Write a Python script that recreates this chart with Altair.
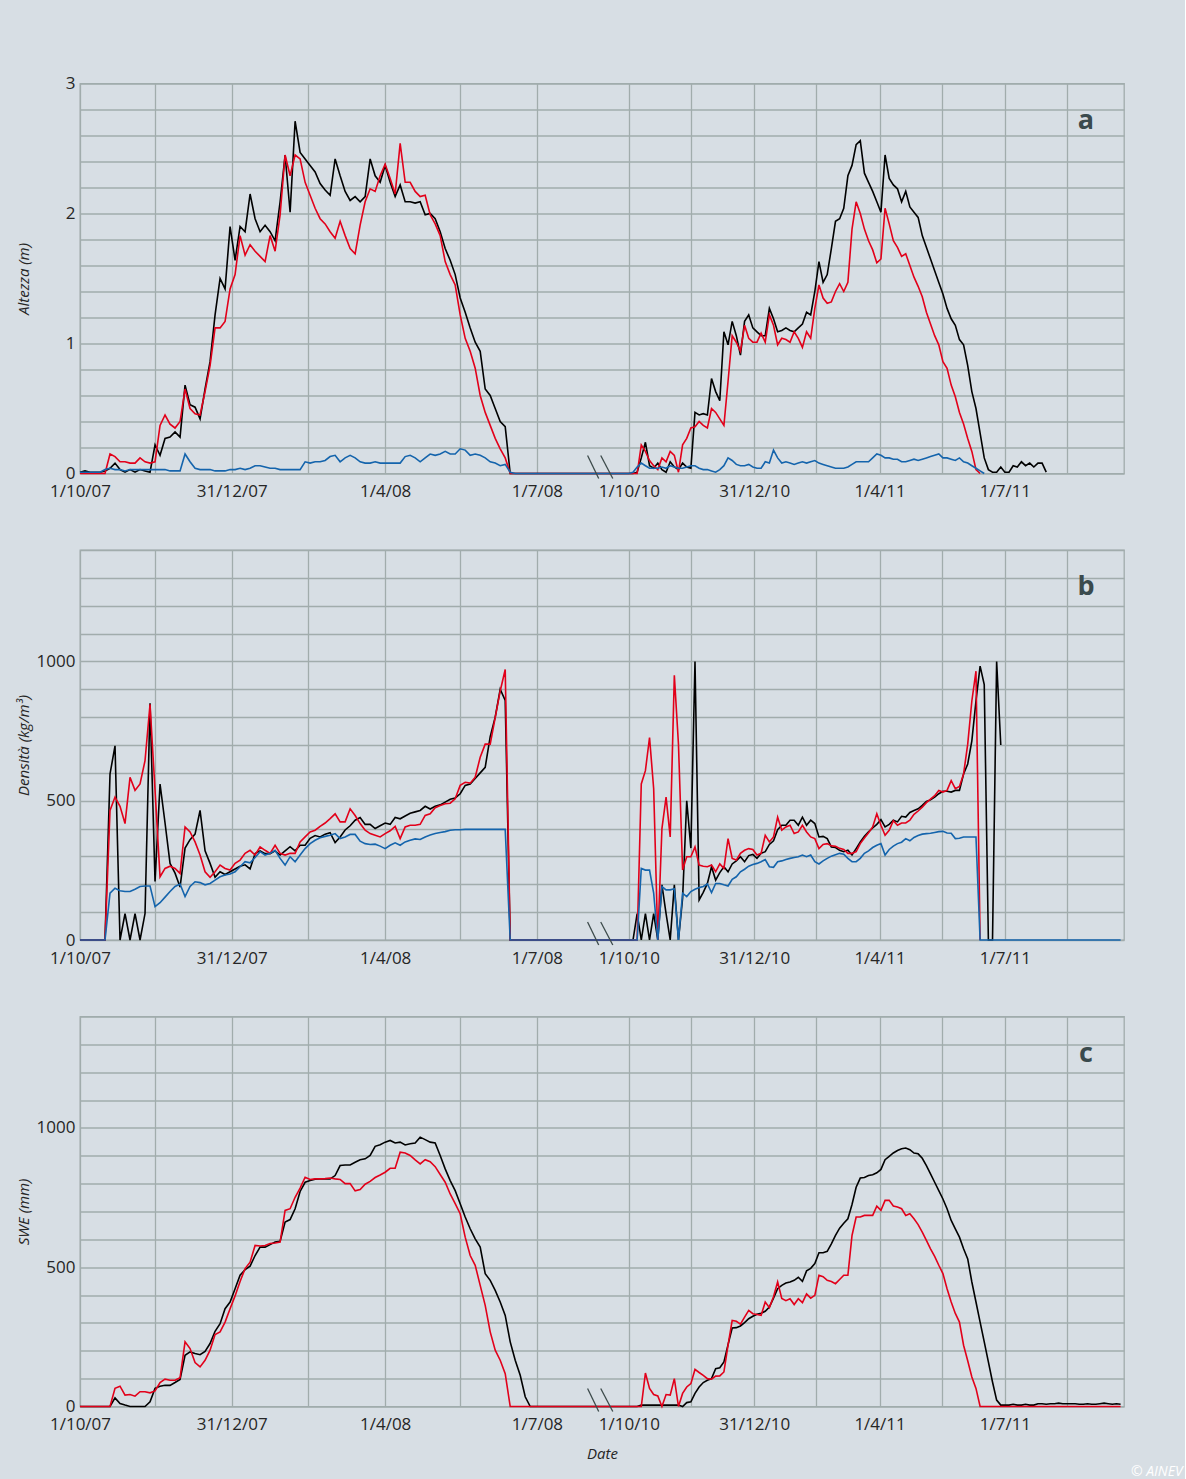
import altair as alt
import pandas as pd

# ------------------------------------------------------------------
# Two snow seasons, one sample every 3 days from the season start.
# ------------------------------------------------------------------
SEASON_1_START = "2007-10-01"
SEASON_2_START = "2010-10-01"
STEP_DAYS = 3

# Panel a - snow depth (m)
depth_black_s1 = [
    0.01, 0.02, 0.01, 0.01, 0.01, 0.02, 0.04, 0.08, 0.03, 0.01,
    0.03, 0.01, 0.03, 0.02, 0.01, 0.22, 0.14, 0.27, 0.28, 0.32,
    0.28, 0.68, 0.53, 0.51, 0.42, 0.65, 0.86, 1.22, 1.50, 1.42,
    1.90, 1.64, 1.90, 1.86, 2.15, 1.96, 1.86, 1.91, 1.86, 1.79,
    2.09, 2.45, 2.01, 2.71, 2.47, 2.42, 2.37, 2.32, 2.23, 2.18,
    2.14, 2.42, 2.29, 2.17, 2.10, 2.13, 2.09, 2.13, 2.42, 2.29,
    2.24, 2.37, 2.24, 2.13, 2.22, 2.09, 2.09, 2.08, 2.09, 1.99,
    2.00, 1.96, 1.86, 1.73, 1.64, 1.53, 1.35, 1.24, 1.12, 1.01,
    0.94, 0.65, 0.60, 0.50, 0.40, 0.36, 0.00]
depth_red_s1 = [
    0, 0, 0, 0, 0, 0, 0.15, 0.13, 0.09, 0.09,
    0.08, 0.08, 0.12, 0.09, 0.08, 0.09, 0.37, 0.45, 0.38, 0.35,
    0.40, 0.65, 0.50, 0.46, 0.45, 0.63, 0.83, 1.12, 1.12, 1.17,
    1.42, 1.53, 1.83, 1.68, 1.76, 1.71, 1.67, 1.63, 1.83, 1.71,
    1.99, 2.45, 2.29, 2.45, 2.42, 2.24, 2.14, 2.04, 1.96, 1.92,
    1.86, 1.81, 1.94, 1.83, 1.73, 1.69, 1.91, 2.09, 2.19, 2.17,
    2.29, 2.38, 2.27, 2.15, 2.54, 2.24, 2.24, 2.17, 2.13, 2.14,
    1.99, 1.92, 1.83, 1.63, 1.53, 1.45, 1.22, 1.04, 0.94, 0.81,
    0.60, 0.47, 0.37, 0.27, 0.19, 0.12, 0]
depth_blue_s1 = [
    0.01, 0.01, 0.01, 0.01, 0.01, 0.03, 0.04, 0.03, 0.03, 0.02,
    0.03, 0.03, 0.03, 0.03, 0.03, 0.03, 0.03, 0.03, 0.02, 0.02,
    0.02, 0.15, 0.09, 0.04, 0.03, 0.03, 0.03, 0.02, 0.02, 0.02,
    0.03, 0.03, 0.04, 0.03, 0.04, 0.06, 0.06, 0.05, 0.04, 0.04,
    0.03, 0.03, 0.03, 0.03, 0.03, 0.09, 0.08, 0.09, 0.09, 0.10,
    0.13, 0.14, 0.09, 0.12, 0.14, 0.12, 0.09, 0.08, 0.08, 0.09,
    0.08, 0.08, 0.08, 0.08, 0.08, 0.13, 0.14, 0.12, 0.09, 0.12,
    0.15, 0.14, 0.15, 0.17, 0.15, 0.15, 0.19, 0.18, 0.14, 0.15,
    0.14, 0.12, 0.09, 0.08, 0.06, 0.07, 0.01, 0]
depth_black_s2 = [
    0, 0, 0.01, 0.12, 0.24, 0.06, 0.04, 0.08, 0.03, 0.01,
    0.09, 0.05, 0.03, 0.08, 0.05, 0.04, 0.47, 0.45, 0.46, 0.45,
    0.73, 0.63, 0.56, 1.09, 0.99, 1.17, 1.06, 0.91, 1.17, 1.22,
    1.12, 1.09, 1.06, 1.06, 1.27, 1.19, 1.09, 1.10, 1.12, 1.10,
    1.09, 1.12, 1.15, 1.24, 1.22, 1.40, 1.63, 1.47, 1.53, 1.73,
    1.94, 1.96, 2.04, 2.29, 2.37, 2.53, 2.56, 2.31, 2.24, 2.17,
    2.09, 2.01, 2.45, 2.27, 2.22, 2.19, 2.09, 2.17, 2.05, 2.01,
    1.97, 1.83, 1.74, 1.65, 1.56, 1.47, 1.38, 1.27, 1.19, 1.14,
    1.03, 0.99, 0.83, 0.63, 0.50, 0.31, 0.12, 0.03, 0.01, 0.01,
    0.05, 0.01, 0.01, 0.06, 0.05, 0.09, 0.06, 0.08, 0.05, 0.08,
    0.08, 0.01]
depth_red_s2 = [
    0, 0, 0, 0.22, 0.17, 0.10, 0.06, 0.03, 0.12, 0.09,
    0.17, 0.14, 0.01, 0.22, 0.27, 0.35, 0.36, 0.40, 0.37, 0.35,
    0.50, 0.47, 0.42, 0.37, 0.71, 1.06, 1.01, 0.94, 1.14, 1.04,
    1.01, 1.01, 1.08, 1.01, 1.22, 1.14, 0.99, 1.04, 1.03, 1.01,
    1.09, 1.04, 0.97, 1.09, 1.04, 1.27, 1.45, 1.35, 1.31, 1.32,
    1.40, 1.46, 1.40, 1.47, 1.88, 2.09, 2.00, 1.88, 1.79, 1.72,
    1.62, 1.65, 2.04, 1.92, 1.79, 1.74, 1.67, 1.69, 1.60, 1.51,
    1.44, 1.36, 1.24, 1.15, 1.06, 0.99, 0.86, 0.81, 0.68, 0.59,
    0.47, 0.38, 0.27, 0.17, 0.03, 0]
depth_blue_s2 = [
    0, 0.01, 0.05, 0.08, 0.06, 0.04, 0.04, 0.04, 0.05, 0.04,
    0.06, 0.05, 0.04, 0.04, 0.05, 0.06, 0.06, 0.04, 0.03, 0.03,
    0.02, 0.01, 0.03, 0.06, 0.12, 0.10, 0.07, 0.06, 0.06, 0.07,
    0.05, 0.04, 0.04, 0.09, 0.08, 0.18, 0.12, 0.08, 0.09, 0.08,
    0.07, 0.08, 0.09, 0.08, 0.09, 0.10, 0.08, 0.07, 0.06, 0.05,
    0.04, 0.04, 0.04, 0.05, 0.07, 0.09, 0.09, 0.09, 0.09, 0.12,
    0.15, 0.14, 0.12, 0.12, 0.11, 0.11, 0.09, 0.09, 0.10, 0.11,
    0.10, 0.11, 0.12, 0.13, 0.14, 0.15, 0.12, 0.12, 0.11, 0.10,
    0.12, 0.09, 0.08, 0.06, 0.04, 0.02, 0]

# Panel b - snow density (kg/m3)
density_black_s1 = [
    0, 0, 0, 0, 0, 0, 596, 697, 0, 95,
    0, 95, 0, 95, 850, 210, 560, 420, 275, 240,
    190, 330, 360, 380, 465, 320, 275, 225, 245, 235,
    245, 255, 265, 270, 255, 310, 320, 310, 310, 320,
    305, 320, 335, 320, 340, 340, 365, 375, 370, 380,
    385, 350, 370, 395, 410, 430, 440, 415, 415, 400,
    410, 420, 415, 440, 435, 445, 455, 460, 465, 480,
    470, 480, 485, 495, 505, 510, 525, 555, 560, 580,
    600, 620, 730, 800, 900, 860, 0]
density_red_s1 = [
    0, 0, 0, 0, 0, 0, 465, 513, 480, 418,
    584, 537, 560, 644, 846, 537, 227, 257, 265, 257,
    239, 406, 388, 352, 305, 245, 225, 245, 269, 257,
    251, 275, 287, 311, 322, 305, 334, 322, 311, 340,
    311, 305, 311, 311, 352, 370, 388, 394, 408, 420,
    436, 453, 424, 424, 471, 447, 418, 394, 382, 376,
    370, 382, 392, 408, 364, 406, 412, 412, 415, 447,
    453, 475, 483, 489, 491, 507, 555, 566, 563, 584,
    656, 703, 703, 798, 894, 971, 0]
density_blue_s1 = [
    0, 0, 0, 0, 0, 0, 168, 186, 177, 174,
    174, 182, 192, 194, 194, 120, 134, 154, 174, 192,
    201, 156, 192, 209, 206, 198, 203, 215, 227, 233,
    237, 245, 263, 281, 277, 296, 317, 305, 311, 322,
    293, 269, 299, 281, 305, 328, 346, 358, 367, 372,
    376, 382, 364, 370, 379, 379, 355, 346, 343, 344,
    337, 328, 340, 349, 340, 352, 358, 363, 361, 370,
    377, 382, 386, 389, 394, 396, 396, 397, 397, 397,
    397, 397, 397, 397, 397, 397, 0]
density_black_s2 = [
    0, 0, 95, 0, 95, 0, 95, 0, 198, 95,
    0, 198, 0, 150, 500, 330, 1000, 144, 171, 203,
    263, 215, 242, 263, 245, 273, 284, 299, 281, 303,
    307, 293, 311, 317, 343, 356, 396, 412, 412, 430,
    430, 412, 441, 412, 430, 418, 370, 372, 364, 334,
    332, 322, 317, 322, 305, 328, 352, 372, 388, 402,
    415, 432, 406, 415, 430, 424, 444, 441, 458, 465,
    471, 483, 497, 503, 513, 525, 534, 534, 531, 537,
    537, 596, 632, 715, 858, 983, 917, 0, 0, 1000,
    700]
density_red_s2 = [
    0, 0, 0, 560, 608, 727, 543, 0, 400, 513,
    370, 950, 703, 251, 299, 299, 334, 269, 265, 263,
    269, 245, 273, 257, 364, 293, 287, 311, 322, 328,
    325, 305, 311, 376, 352, 370, 441, 394, 406, 412,
    382, 388, 412, 388, 370, 364, 328, 343, 346, 338,
    336, 329, 325, 311, 311, 317, 346, 366, 385, 406,
    453, 412, 376, 394, 428, 412, 420, 420, 430, 451,
    463, 477, 493, 506, 518, 537, 531, 537, 572, 543,
    551, 596, 703, 858, 965, 0]
density_blue_s2 = [
    0, 0, 0, 257, 251, 251, 168, 0, 192, 180,
    180, 184, 0, 168, 156, 174, 182, 188, 192, 201,
    170, 203, 203, 198, 194, 218, 227, 245, 254, 265,
    271, 275, 281, 289, 263, 261, 281, 284, 289, 293,
    296, 299, 305, 299, 305, 281, 273, 284, 293, 301,
    306, 311, 308, 293, 281, 281, 293, 311, 320, 332,
    340, 346, 305, 325, 337, 346, 351, 364, 356, 368,
    375, 380, 382, 383, 386, 389, 390, 384, 383, 364,
    365, 370, 370, 370, 370, 0, 0, 0, 0, 0,
    0, 0, 0, 0, 0, 0, 0, 0, 0, 0,
    0, 0, 0, 0, 0, 0, 0, 0, 0, 0,
    0, 0, 0, 0, 0, 0, 0, 0, 0, 0]

# Panel c - snow water equivalent (mm)
swe_black_s1 = [
    0, 0, 0, 0, 0, 0, 0, 31, 11, 5,
    0, 0, 0, 0, 17, 65, 73, 76, 76, 86,
    97, 184, 196, 190, 186, 198, 226, 270, 297, 351,
    375, 423, 471, 491, 504, 542, 572, 572, 581, 590,
    593, 662, 671, 710, 772, 805, 811, 816, 817, 817,
    817, 829, 865, 867, 867, 877, 886, 889, 901, 934,
    940, 949, 955, 946, 949, 939, 943, 946, 967, 958,
    949, 946, 901, 853, 811, 775, 728, 680, 638, 602,
    572, 477, 453, 417, 375, 327, 232, 166, 112, 35,
    0]
swe_red_s1 = [
    0, 0, 0, 0, 0, 0, 0, 65, 73, 41,
    43, 37, 53, 53, 49, 56, 86, 98, 94, 94,
    103, 232, 208, 158, 142, 166, 202, 258, 268, 303,
    351, 397, 449, 495, 518, 578, 576, 578, 585, 587,
    590, 704, 710, 751, 784, 823, 815, 817, 817, 818,
    820, 817, 815, 800, 800, 774, 779, 798, 808, 822,
    831, 841, 855, 855, 913, 910, 901, 885, 871, 886,
    879, 861, 833, 805, 763, 728, 692, 608, 542, 507,
    435, 363, 268, 202, 166, 118, 0]
swe_black_s2 = [
    0, 0, 0, 5, 5, 5, 5, 5, 5, 5,
    5, 5, 5, 0, 14, 17, 47, 70, 86, 94,
    100, 136, 139, 160, 222, 282, 283, 289, 301, 315,
    324, 331, 335, 342, 357, 389, 423, 435, 443, 447,
    453, 464, 449, 487, 496, 513, 552, 552, 557, 584,
    614, 640, 658, 674, 725, 787, 820, 822, 829, 832,
    839, 851, 886, 898, 910, 919, 925, 928, 922, 910,
    907, 891, 865, 835, 805, 775, 745, 710, 668, 638,
    608, 566, 530, 447, 375, 303, 232, 160, 88, 23,
    5, 5, 5, 8, 5, 5, 8, 5, 5, 10,
    10, 8, 10, 10, 12, 10, 10, 10, 10, 8,
    8, 10, 8, 8, 10, 12, 10, 8, 10, 8]
swe_red_s2 = [
    0, 0, 0, 0, 120, 65, 43, 38, 0, 43,
    41, 100, 0, 47, 70, 82, 133, 122, 112, 100,
    98, 109, 110, 124, 220, 309, 306, 296, 321, 345,
    333, 330, 327, 375, 355, 394, 447, 388, 380, 387,
    366, 387, 373, 404, 389, 399, 471, 466, 453, 449,
    441, 456, 471, 471, 614, 680, 680, 686, 686, 686,
    719, 704, 740, 740, 720, 716, 710, 686, 692, 674,
    653, 626, 596, 566, 539, 507, 477, 423, 375, 334,
    303, 220, 164, 106, 65, 0, 0, 0, 0, 0,
    0, 0, 0, 0, 0, 0, 0, 0, 0, 0,
    0, 0, 0, 0, 0, 0, 0, 0, 0, 0,
    0, 0, 0, 0, 0, 0, 0, 0, 0, 0]

# Axis: labelled dates and the half-quarter grid
tick_labels = [
    ("2007-10-01", "1/10/07"), ("2007-12-31", "31/12/07"),
    ("2008-04-01", "1/4/08"), ("2008-07-01", "1/7/08"),
    ("2010-10-01", "1/10/10"), ("2010-12-31", "31/12/10"),
    ("2011-04-01", "1/4/11"), ("2011-07-01", "1/7/11"),
]
grid_dates = [
    "2007-10-01", "2007-11-15", "2007-12-31", "2008-02-15", "2008-04-01",
    "2008-05-16", "2008-07-01", "2010-10-01", "2010-11-15", "2010-12-31",
    "2011-02-14", "2011-04-01", "2011-05-16", "2011-07-01", "2011-08-15",
]

# ------------------------------------------------------------------
# Broken time axis: season 1 spans three units, a short gap, then
# season 2 drawn at a slightly compressed scale.
# ------------------------------------------------------------------
S1_T0 = pd.Timestamp(SEASON_1_START)
S2_T0 = pd.Timestamp(SEASON_2_START)
S1_UNITS_PER_DAY = 3.0 / 274
GAP_UNITS = 0.604
S2_UNITS_PER_DAY = 0.823 / 91
X_MAX = 6.855


def axis_pos(ts):
    ts = pd.Timestamp(ts)
    if ts < S2_T0:
        return (ts - S1_T0).days * S1_UNITS_PER_DAY
    return 3.0 + GAP_UNITS + (ts - S2_T0).days * S2_UNITS_PER_DAY


def season_rows(values, start):
    t0 = pd.Timestamp(start)
    return [{"pos": axis_pos(t0 + pd.Timedelta(days=STEP_DAYS * i)), "value": v}
            for i, v in enumerate(values)]


def series_frame(s1, s2):
    return pd.DataFrame(season_rows(s1, SEASON_1_START) + season_rows(s2, SEASON_2_START))


X_GRID = [round(axis_pos(d), 5) for d in grid_dates]
X_LABEL_EXPR = "".join(
    f"abs(datum.value - {axis_pos(d):.5f}) < 0.002 ? '{lab}' : " for d, lab in tick_labels
) + "''"

BLACK = "#000000"
RED = "#e2001a"
BLUE = "#1464ac"
GRID = "#a1acac"
BG = "#d7dee4"
TEXT = "#262626"

W, H = 1044, 390


def x_enc(title):
    return alt.X(
        "pos:Q",
        title=title,
        scale=alt.Scale(domain=[0, X_MAX], nice=False, zero=False),
        axis=alt.Axis(values=X_GRID, labelExpr=X_LABEL_EXPR, labelFlush=False,
                      labelOverlap=False, labelPadding=10, titlePadding=14),
    )


def y_enc(ymax, step, title, label_expr):
    n = int(round(ymax / step))
    return alt.Y(
        "value:Q",
        title=title,
        scale=alt.Scale(domain=[0, ymax], nice=False),
        axis=alt.Axis(values=[round(step * k, 2) for k in range(n + 1)],
                      labelExpr=label_expr, labelPadding=5,
                      titleX=-57, titleY=H / 2, titleAngle=270,
                      titleAlign="center", titleBaseline="middle"),
    )


def panel(series, ymax, step, ytitle, label_expr, letter, xtitle=None):
    xe = x_enc(xtitle)
    ye = y_enc(ymax, step, ytitle, label_expr)
    layers = [
        alt.Chart(df).mark_line(color=color, strokeWidth=1.6).encode(x=xe, y=ye)
        for df, color in series
    ]
    # axis-break marks across the gap between the two seasons
    gap0 = 3.0
    breaks = pd.DataFrame({
        "pos": [gap0 + 0.551 * GAP_UNITS, gap0 + 0.694 * GAP_UNITS],
        "pos2": [gap0 + 0.672 * GAP_UNITS, gap0 + 0.825 * GAP_UNITS],
    })
    layers.append(
        alt.Chart(breaks).mark_rule(color="#3c4a4a", strokeWidth=1.3).encode(
            x=xe, x2="pos2:Q", y=alt.value(H - 18), y2=alt.value(H + 5))
    )
    layers.append(
        alt.Chart(pd.DataFrame({"t": [letter]})).mark_text(
            font="Open Sans", fontSize=27, fontWeight="bold", color="#3a4a4d"
        ).encode(text="t:N", x=alt.value(1006), y=alt.value(37))
    )
    return alt.layer(*layers).properties(width=W, height=H)


INT_LABELS = "abs(datum.value - round(datum.value)) < 1e-6 ? format(datum.value, 'd') : ''"
HUNDREDS_LABELS = "(datum.value % 500 == 0 && datum.value < 1400) ? format(datum.value, 'd') : ''"

panel_a = panel(
    [(series_frame(depth_black_s1, depth_black_s2), BLACK),
     (series_frame(depth_red_s1, depth_red_s2), RED),
     (series_frame(depth_blue_s1, depth_blue_s2), BLUE)],
    3.0, 0.2, "Altezza (m)", INT_LABELS, "a")
panel_b = panel(
    [(series_frame(density_black_s1, density_black_s2), BLACK),
     (series_frame(density_red_s1, density_red_s2), RED),
     (series_frame(density_blue_s1, density_blue_s2), BLUE)],
    1400, 100, "Densità (kg/m³)", HUNDREDS_LABELS, "b")
panel_c = panel(
    [(series_frame(swe_black_s1, swe_black_s2), BLACK),
     (series_frame(swe_red_s1, swe_red_s2), RED)],
    1400, 100, "SWE (mm)", HUNDREDS_LABELS, "c", xtitle="Date")

chart = (
    alt.vconcat(panel_a, panel_b, panel_c, spacing=48.5)
    .properties(
        background=BG,
        padding={"left": 15, "top": 73.5, "right": 2, "bottom": 1},
        title=alt.TitleParams(
            text="© AINEV", orient="bottom", anchor="end", color="white",
            font="Open Sans", fontSize=14, fontStyle="italic", fontWeight="normal",
            dx=58, offset=3),
    )
    .configure_view(stroke=GRID, strokeWidth=1.3)
    .configure_axis(
        labelFont="Open Sans", labelFontSize=17, labelColor=TEXT,
        titleFont="Open Sans", titleFontSize=15, titleFontStyle="italic",
        titleFontWeight="normal", titleColor=TEXT,
        grid=True, gridColor=GRID, gridWidth=1.3, gridOpacity=1,
        domain=False, ticks=False,
    )
)

chart.save("out.html", embed_options={"renderer": "svg", "actions": False})
